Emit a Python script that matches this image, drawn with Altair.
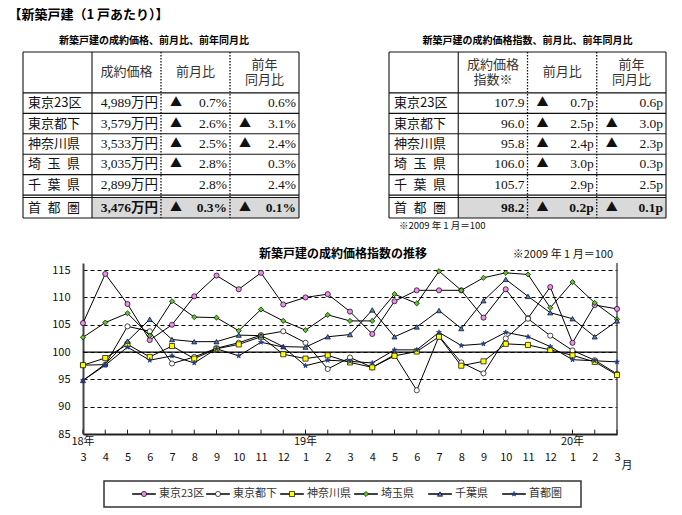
"""新築戸建（1戸あたり）: two summary tables plus the price-index trend chart."""

import altair as alt
import pandas as pd

# ---------------------------------------------------------------- table data
REGIONS = ["東京23区", "東京都下", "神奈川県", "埼\u2002玉\u2002県", "千\u2002葉\u2002県", "首\u2002都\u2002圏"]
PRICE = [4989, 3579, 3533, 3035, 2899, 3476]          # 万円
PRICE_MOM = [-0.7, -2.6, -2.5, -2.8, 2.8, -0.3]        # %
PRICE_YOY = [0.6, -3.1, -2.4, 0.3, 2.4, -0.1]          # %
INDEX = [107.9, 96.0, 95.8, 106.0, 105.7, 98.2]        # 2009年1月=100
INDEX_MOM = [-0.7, -2.5, -2.4, -3.0, 2.9, -0.2]        # p
INDEX_YOY = [0.6, -3.0, -2.3, 0.3, 2.5, -0.1]          # p

# ---------------------------------------------------------------- trend data
MONTHS = [p.strftime("%Y-%m") for p in pd.period_range("2018-03", "2020-03", freq="M")]
YEAR_STARTS = ["2018-03", "2019-01", "2020-01"]
YEAR_TEXT = ["18年", "19年", "20年"]
SERIES = ["東京23区", "東京都下", "神奈川県", "埼玉県", "千葉県", "首都圏"]
TOKYO23 = [105.3, 114.3, 108.8, 102.2, 105.0, 110.2, 114.0, 111.5, 114.5, 108.7, 110.0, 110.6, 107.4,
           103.3, 109.3, 111.3, 111.3, 111.3, 106.3, 111.5, 106.2, 111.9, 101.7, 108.6, 107.9]
TOKYO_TAMA = [97.6, 97.7, 104.7, 103.8, 97.9, 99.1, 100.7, 101.7, 103.1, 103.8, 101.7, 96.9, 99.0,
              97.2, 99.5, 93.0, 102.9, 98.1, 96.1, 102.5, 106.1, 103.0, 100.3, 98.5, 96.0]
KANAGAWA = [97.6, 98.9, 101.4, 99.1, 101.1, 98.8, 100.6, 101.4, 102.8, 99.6, 98.8, 99.4, 98.1,
            97.2, 99.3, 100.1, 102.8, 97.5, 98.3, 101.5, 101.3, 100.4, 99.4, 98.2, 95.8]
SAITAMA = [102.7, 105.4, 107.1, 103.0, 109.3, 106.4, 106.3, 103.9, 107.8, 105.7, 104.0, 106.8, 105.7,
           105.7, 110.6, 108.9, 114.8, 111.3, 113.6, 114.5, 114.2, 108.1, 112.8, 109.0, 106.0]
CHIBA = [94.8, 97.8, 102.0, 106.0, 102.3, 101.9, 101.9, 103.1, 103.0, 101.0, 100.9, 102.8, 103.2,
         107.7, 102.8, 104.6, 107.6, 104.3, 109.4, 113.3, 110.2, 107.2, 106.1, 102.8, 105.7]
SHUTOKEN = [94.8, 97.6, 100.9, 98.5, 99.3, 98.0, 100.6, 99.3, 101.8, 100.9, 97.5, 98.5, 98.3,
            98.0, 100.4, 100.4, 103.6, 101.2, 101.5, 103.6, 102.8, 101.0, 98.6, 98.4, 98.2]

SANS = "Noto Sans CJK JP"
SERIF = "Liberation Serif, Noto Sans CJK JP"
INK = "#111111"

# Vega has no built-in star symbol, so the 首都圏 marker is a unit-square path
STAR = ("M0,-1L0.235,-0.324L0.951,-0.309L0.38,0.124L0.588,0.809L0,0.4"
        "L-0.588,0.809L-0.38,0.124L-0.951,-0.309L-0.235,-0.324Z")
FILLS = ["#f08cf0", "white", "#ffff00", "#5ccc1e", "#4a7fd8", "#1f3a86"]
STROKES = ["black", "black", "black", "black", "black", "#1f3a86"]
SHAPES = ["circle", "circle", "square", "diamond", "triangle-up", STAR]
SIZES = [26, 26, 32, 26, 32, 85]


def marker_enc():
    return dict(
        fill=alt.Fill("series:N", scale=alt.Scale(domain=SERIES, range=FILLS), legend=None),
        stroke=alt.Stroke("series:N", scale=alt.Scale(domain=SERIES, range=STROKES), legend=None),
        shape=alt.Shape("series:N", scale=alt.Scale(domain=SERIES, range=SHAPES), legend=None),
        size=alt.Size("series:N", scale=alt.Scale(domain=SERIES, range=SIZES), legend=None),
    )


# ---------------------------------------------------------------- tables
# all rows of the page share one left origin (the trend chart's y axis),
# so the left table is drawn partly to the left of it through its x range
ROW_TOP = [2, 3, 4, 5, 6, 7.12]      # header spans rows 0-2; small gap before 首都圏 = double rule
TBL_BOTTOM = 8.12
RULES_Y = [0, 2, 3, 4, 5, 6, 7, 7.12, 8.12]


def table(title, heads, values, mom, yoy, unit, width, x_range, title_dx=0, note=None):
    cells = []
    for i, region in enumerate(REGIONS):
        yc = ROW_TOP[i] + 0.5
        w = "b" if i == len(REGIONS) - 1 else ""
        cells.append({"x": 0, "y": yc, "text": region, "kind": "label"})
        cells.append({"x": 2, "y": yc, "text": values[i], "kind": "num" + w})
        for right, v in ((3, mom[i]), (4, yoy[i])):
            cells.append({"x": right, "y": yc, "text": f"{abs(v):.1f}{unit}", "kind": "num" + w})
            if v < 0:
                cells.append({"x": right - 1, "y": yc, "text": "▲", "kind": "tri"})
    for c, h in enumerate(heads):
        cells.append({"x": c + 1.5, "y": 1, "text": h, "kind": "head2" if "\n" in h else "head"})
    if note:
        cells.append({"x": 0, "y": TBL_BOTTOM + 0.4, "text": note, "kind": "note"})

    xs = alt.Scale(domain=[0, 4], range=x_range)
    ys = alt.Scale(domain=[0, TBL_BOTTOM], reverse=True)
    X = lambda f: alt.X(f, scale=xs, axis=None)
    Y = lambda f: alt.Y(f, scale=ys, axis=None)

    base = alt.Chart(pd.DataFrame(cells)).encode(x=X("x:Q"), y=Y("y:Q"), text="text:N")
    head = dict(align="center", font=SANS, fontSize=13, lineBreak="\n", lineHeight=15, color="#333")
    styles = {
        "label": dict(align="left", dx=5, font=SANS, fontSize=13, color=INK),
        "num": dict(align="right", dx=-3, font=SERIF, fontSize=13.5, color=INK),
        "numb": dict(align="right", dx=-3, font=SERIF, fontSize=13.5, fontWeight="bold", color=INK),
        "tri": dict(align="center", dx=15, font=SANS, fontSize=12, color=INK),
        "head": head,
        "head2": dict(head, dy=-7),
        "note": dict(align="left", dx=10, font=SANS, fontSize=9.5, color=INK),
    }
    texts = [base.transform_filter(alt.datum.kind == k).mark_text(baseline="middle", **s)
             for k, s in styles.items()]

    lines = pd.DataFrame(
        [{"x": 0, "x2": 4, "y": v, "y2": v, "dash": False} for v in RULES_Y]
        + [{"x": v, "x2": v, "y": 0, "y2": TBL_BOTTOM, "dash": v in (2, 3)} for v in range(5)]
    )
    rule = alt.Chart(lines).encode(x=X("x:Q"), x2="x2:Q", y=Y("y:Q"), y2="y2:Q")
    solid = rule.transform_filter("!datum.dash").mark_rule(color=INK, strokeWidth=1.1)
    dotted = rule.transform_filter("datum.dash").mark_rule(color=INK, strokeWidth=1.3, strokeDash=[1.5, 1.5])

    shade = alt.Chart(pd.DataFrame({"x": [1], "x2": [4], "y": [ROW_TOP[-1]], "y2": [TBL_BOTTOM]})).mark_rect(
        fill="#d9d9d9").encode(x=X("x:Q"), x2="x2:Q", y=Y("y:Q"), y2="y2:Q")

    return alt.layer(shade, solid, dotted, *texts).properties(
        width=width, height=166,
        title=alt.TitleParams(title, font=SANS, fontSize=10, fontWeight="bold", offset=5, dx=title_dx),
    )


price_tbl = table(
    "新築戸建の成約価格、前月比、前年同月比",
    ["成約価格", "前月比", "前年\n同月比"],
    [f"{v:,}万円" for v in PRICE], PRICE_MOM, PRICE_YOY, "%",
    width=216, x_range=[-60, 216], title_dx=-37,
)
index_tbl = table(
    "新築戸建の成約価格指数、前月比、前年同月比",
    ["成約価格\n指数※", "前月比", "前年\n同月比"],
    [f"{v:.1f}" for v in INDEX], INDEX_MOM, INDEX_YOY, "p",
    width=277, x_range=[0, 277], note="※2009 年 1 月＝100",
)

# ---------------------------------------------------------------- trend chart
W, H = 534, 171
trend_df = pd.DataFrame({
    "month": MONTHS * len(SERIES),
    "series": [s for s in SERIES for _ in MONTHS],
    "value": TOKYO23 + TOKYO_TAMA + KANAGAWA + SAITAMA + CHIBA + SHUTOKEN,
})

x_axis = alt.Axis(
    title="月", titleFont=SANS, titleFontSize=11, titleFontWeight="normal", titleColor=INK,
    titleX=W + 4, titleY=31, titleAlign="left", titleBaseline="middle",
    labelExpr="toNumber(slice(datum.value, 5)) + ''",
    labelAngle=0, labelFont=SANS, labelFontSize=11, labelColor=INK, labelBaseline="top",
    labelPadding=17, labelOverlap=False, ticks=False, grid=False, domainColor="#222", domainWidth=2,
)
y_axis = alt.Axis(
    values=[85, 90, 95, 100, 105, 110, 115], title=None, ticks=False, labelPadding=13,
    labelFont=SANS, labelFontSize=11, labelColor=INK, domainColor="#444", domainWidth=2,
    grid=True, gridColor="black", gridDash=[4, 3], gridWidth=1, minExtent=74, maxExtent=74,
)
xsc = alt.Scale(type="point", padding=0)
ysc = alt.Scale(domain=[85, 116.3])
MX = alt.X("month:O", scale=xsc, axis=x_axis)

base = alt.Chart(trend_df).encode(x=MX, y=alt.Y("value:Q", scale=ysc, axis=y_axis))
series_lines = base.mark_line(color="black", strokeWidth=1).encode(detail="series:N")
series_pts = base.mark_point(filled=True, opacity=1, strokeWidth=0.7).encode(**marker_enc())

hundred = alt.Chart(pd.DataFrame({"v": [100]})).mark_rule(color="black", strokeWidth=1.3).encode(
    y=alt.Y("v:Q", scale=ysc, axis=y_axis))
frame_r = alt.Chart(pd.DataFrame({"month": [MONTHS[-1]]})).mark_rule(color="#555", strokeWidth=1.5).encode(
    x=MX)
ticks = alt.Chart(pd.DataFrame({"month": MONTHS, "lo": 85, "hi": 85.8})).mark_rule(color="#222").encode(
    x=MX, y=alt.Y("lo:Q", scale=ysc, axis=y_axis), y2="hi:Q")
years = alt.Chart(pd.DataFrame({"month": YEAR_STARTS, "t": YEAR_TEXT})).mark_text(
    baseline="middle", font=SANS, fontSize=11, color=INK).encode(x=MX, y=alt.value(H + 8), text="t:N")
base_note = alt.Chart(pd.DataFrame({"month": [MONTHS[-1]], "t": ["※2009 年 1 月＝100"]})).mark_text(
    align="right", baseline="middle", dx=-4, font=SANS, fontSize=11, color=INK).encode(
    x=MX, y=alt.value(-8), text="t:N")

trend = alt.layer(hundred, frame_r, ticks, series_lines, series_pts, years, base_note).properties(
    width=W, height=H,
    # the title sits on the same line as the ※ note, so pull it down beside it
    title=alt.TitleParams("新築戸建の成約価格指数の推移", font=SANS, fontSize=12, fontWeight="bold",
                          offset=4, dy=16, dx=-7),
)

# ---------------------------------------------------------------- legend box
leg_df = pd.DataFrame({"series": SERIES, "k": range(len(SERIES))})
lx = alt.Scale(domain=[0, 5], range=[40, 410])
leg_base = alt.Chart(leg_df).encode(y=alt.value(13))
leg_line = leg_base.transform_calculate(x0="datum.k - 0.16", x1="datum.k + 0.16").mark_rule(
    color="black", strokeWidth=1.5).encode(x=alt.X("x0:Q", scale=lx, axis=None), x2="x1:Q")
leg_pts = leg_base.mark_point(filled=True, opacity=1, strokeWidth=0.7).encode(
    x=alt.X("k:Q", scale=lx, axis=None), **marker_enc())
leg_txt = leg_base.mark_text(align="left", baseline="middle", dx=15, font=SANS, fontSize=11, color="#333").encode(
    x=alt.X("k:Q", scale=lx, axis=None), text="series:N")
legend = alt.layer(leg_line, leg_pts, leg_txt).properties(
    width=477, height=26, view=alt.ViewBackground(stroke="#333", strokeWidth=1.5))
# empty strip that pushes the legend box right of the shared left origin
indent = alt.Chart(leg_df.head(1)).mark_point(opacity=0).encode(
    x=alt.X("k:Q", axis=None), y=alt.Y("k:Q", axis=None)).properties(width=19, height=26)

# ---------------------------------------------------------------- page
chart = alt.vconcat(
    alt.hconcat(price_tbl, index_tbl, spacing=86),
    alt.vconcat(trend, alt.hconcat(indent, legend, spacing=0), spacing=9),
    spacing=15,
).properties(
    padding=0,
    title=alt.TitleParams("【新築戸建（1 戸あたり）】", anchor="start", font=SANS, fontSize=13,
                          fontWeight="bold", offset=14),
).configure_view(stroke="transparent")

chart.save("out.html", embed_options={"renderer": "svg", "actions": False})
